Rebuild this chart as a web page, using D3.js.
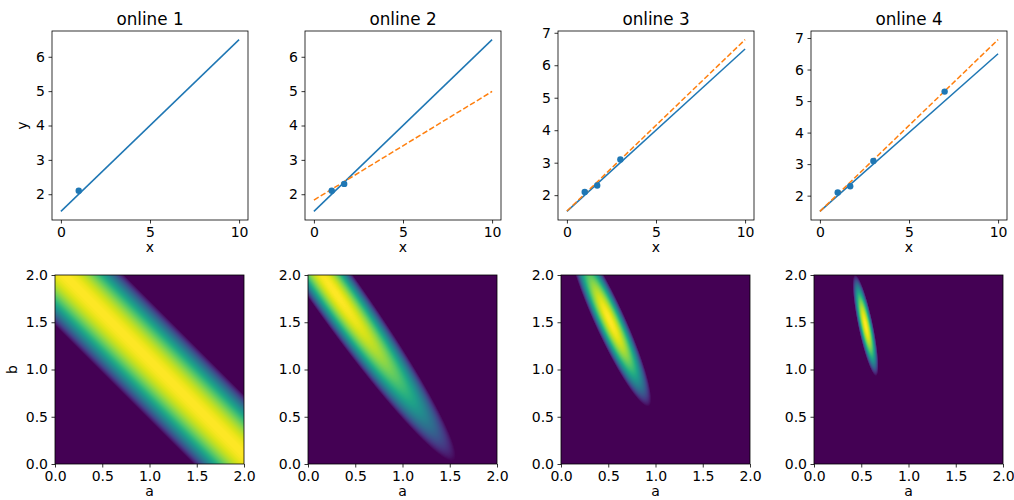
<!DOCTYPE html>
<html>
<head>
<meta charset="utf-8">
<script src="https://cdn.jsdelivr.net/npm/d3@7"></script>
<style>
  body { margin: 0; background: #fff; }
  text { font-family: "DejaVu Sans", sans-serif; fill: #000; }
</style>
</head>
<body>
<div id="viz"></div>
<script>
// observations, revealed one more per panel
const obsX = [1, 1.7, 3, 7]
const obsY = [2.1, 2.3, 3.1, 5.3]
const titles = ['online 1', 'online 2', 'online 3', 'online 4']

// true line and the estimate after each step
const trueA = 0.5, trueB = 1.5
const estA = [null, 0.316, 0.528, 0.545]
const estB = [null, 1.83, 1.51, 1.50]

const xTicks = [0, 5, 10]
const abTicks = [0, 0.5, 1, 1.5, 2]
const lineX = [0, 10]

const w = 1014, h = 500
const svg = d3.select('#viz')
    .append('svg')
    .attr('width', w)
    .attr('height', h)

const cellLeft = [52, 305, 558, 811], cellW = 196
const top1 = 31, bot1 = 220
const top2 = 275, side2 = 189
const blue = '#1f77b4', orange = '#ff7f0e'

// log-density floor for the colour map
const logFloor = 0.4
const N = side2   // one cell per pixel

const frame = (g, wd, ht) => g.append('rect')
    .attr('width', wd).attr('height', ht)
    .attr('fill', 'none').attr('stroke', '#000').attr('stroke-width', 0.8)

const styleAxis = (sel) => {
    sel.select('.domain').remove()
    sel.selectAll('.tick line').attr('stroke', '#000').attr('stroke-width', 0.8)
    sel.selectAll('.tick text').style('font-size', '14px').attr('fill', '#000')
        .style('font-family', '"DejaVu Sans", sans-serif')
}

titles.forEach((title, i) => {
    const k = i + 1
    const xs = obsX.slice(0, k), ys = obsY.slice(0, k)

    // ---- top row: data and fitted lines
    const innerH = bot1 - top1
    const g = svg.append('g').attr('transform', `translate(${cellLeft[i]}, ${top1})`)

    const x = d3.scaleLinear().domain([-0.5, 10.5]).range([0, cellW])
    let vals = [trueB, trueA * 10 + trueB].concat(ys)
    if (estA[i] !== null) vals = vals.concat([estB[i], estA[i] * 10 + estB[i]])
    const [lo, hi] = d3.extent(vals)
    const m = (hi - lo) * 0.05
    const y = d3.scaleLinear().domain([lo - m, hi + m]).range([innerH, 0])
    const yTicks = d3.range(Math.ceil(lo - m), Math.floor(hi + m) + 1)

    const line = d3.line().x(d => x(d[0])).y(d => y(d[1]))
    g.append('path')
        .datum(lineX.map(v => [v, trueA * v + trueB]))
        .attr('d', line)
        .attr('fill', 'none').attr('stroke', blue).attr('stroke-width', 1.5)
    if (estA[i] !== null) {
        g.append('path')
            .datum(lineX.map(v => [v, estA[i] * v + estB[i]]))
            .attr('d', line)
            .attr('fill', 'none').attr('stroke', orange).attr('stroke-width', 1.5)
            .attr('stroke-dasharray', '5.55,2.4')
    }
    g.selectAll('circle')
        .data(xs)
        .enter()
        .append('circle')
        .attr('cx', d => x(d))
        .attr('cy', (d, j) => y(ys[j]))
        .attr('r', 3.2)
        .attr('fill', blue)

    g.append('g').attr('transform', `translate(0, ${innerH})`)
        .call(d3.axisBottom(x).tickValues(xTicks).tickSize(3.5).tickPadding(3.5))
        .call(styleAxis)
    g.append('g')
        .call(d3.axisLeft(y).tickValues(yTicks).tickFormat(d3.format('d')).tickSize(3.5).tickPadding(3.5))
        .call(styleAxis)
    frame(g, cellW, innerH)

    g.append('text')
        .attr('x', cellW / 2).attr('y', -6)
        .attr('text-anchor', 'middle')
        .style('font-size', '16.8px')
        .text(title)
    g.append('text')
        .attr('x', cellW / 2).attr('y', innerH + 32)
        .attr('text-anchor', 'middle')
        .style('font-size', '14px')
        .text('x')
    if (i === 0) {
        g.append('text')
            .attr('transform', `translate(-25, ${innerH / 2}) rotate(-90)`)
            .attr('text-anchor', 'middle')
            .style('font-size', '14px')
            .text('y')
    }

    // ---- bottom row: log posterior over (a, b)
    const g2 = svg.append('g')
        .attr('transform', `translate(${Math.floor(cellLeft[i] + (cellW - side2) / 2)}, ${top2})`)
    const a = d3.scaleLinear().domain([0, 2]).range([0, side2])
    const b = d3.scaleLinear().domain([0, 2]).range([side2, 0])

    const step = 2 / N
    const cells = []
    for (let r = 0; r < N; r++) {
        for (let c = 0; c < N; c++) {
            const av = (c + 0.5) * step, bv = (r + 0.5) * step
            const ss = d3.sum(xs, (xv, j) => (ys[j] - av * xv - bv) ** 2)
            cells.push({ a: c * step, b: (r + 1) * step, ss })
        }
    }
    const ssMin = d3.min(cells, d => d.ss)
    const cw = a(step) - a(0)

    g2.append('g').attr('shape-rendering', 'crispEdges')
        .selectAll('rect.cell')
        .data(cells)
        .enter()
        .append('rect')
        .attr('class', 'cell')
        .attr('x', d => a(d.a))
        .attr('y', d => b(d.b))
        .attr('width', cw)
        .attr('height', cw)
        .attr('fill', d => d3.interpolateViridis(Math.max(0, 1 - (d.ss - ssMin) / logFloor)))

    g2.append('g').attr('transform', `translate(0, ${side2})`)
        .call(d3.axisBottom(a).tickValues(abTicks).tickFormat(d3.format('.1f')).tickSize(3.5).tickPadding(3.5))
        .call(styleAxis)
    g2.append('g')
        .call(d3.axisLeft(b).tickValues(abTicks).tickFormat(d3.format('.1f')).tickSize(3.5).tickPadding(3.5))
        .call(styleAxis)
    frame(g2, side2, side2)

    g2.append('text')
        .attr('x', side2 / 2).attr('y', side2 + 32)
        .attr('text-anchor', 'middle')
        .style('font-size', '14px')
        .text('a')
    if (i === 0) {
        g2.append('text')
            .attr('transform', `translate(-38, ${side2 / 2}) rotate(-90)`)
            .attr('text-anchor', 'middle')
            .style('font-size', '14px')
            .text('b')
    }
})
</script>
</body>
</html>
